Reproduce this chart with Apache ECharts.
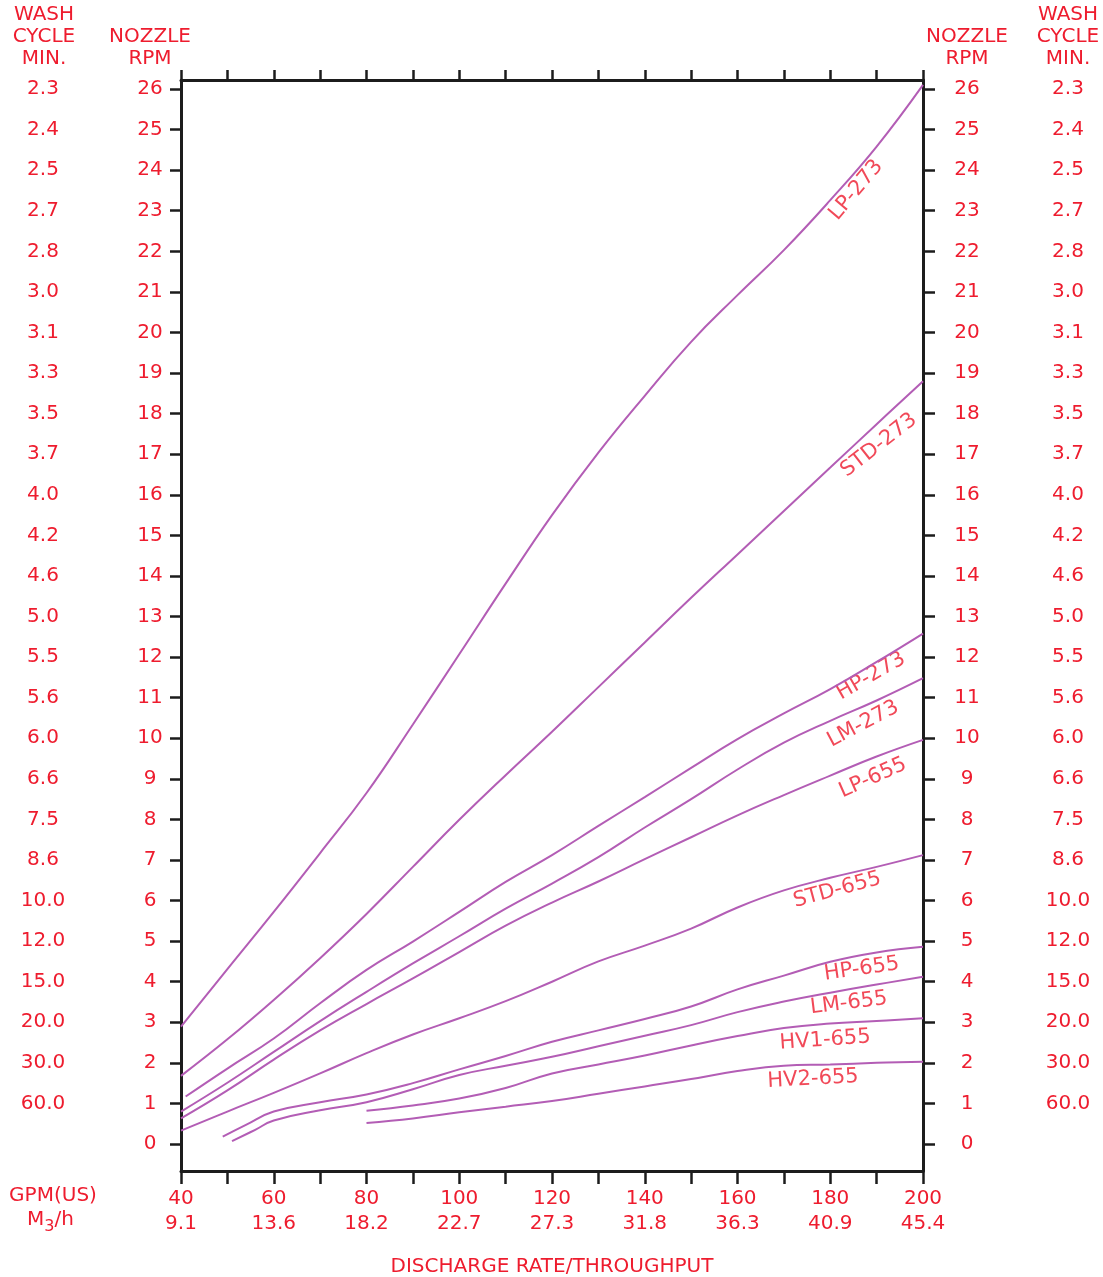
<!DOCTYPE html>
<html><head><meta charset="utf-8">
<script src="https://cdn.jsdelivr.net/npm/echarts@6/dist/echarts.min.js"></script>
<style>html,body{margin:0;padding:0;background:#fff}#c{width:1103px;height:1277px}</style>
</head><body><div id="c"></div>
<script>
// ---- axis values ----
const gpmLabels = [40, 60, 80, 100, 120, 140, 160, 180, 200];
const m3hLabels = ['9.1', '13.6', '18.2', '22.7', '27.3', '31.8', '36.3', '40.9', '45.4'];
const rpmTicks = [0,1,2,3,4,5,6,7,8,9,10,11,12,13,14,15,16,17,18,19,20,21,22,23,24,25,26];
const washRpm = [1,2,3,4,5,6,7,8,9,10,11,12,13,14,15,16,17,18,19,20,21,22,23,24,25,26];
const washCycle = ['60.0','30.0','20.0','15.0','12.0','10.0','8.6','7.5','6.6','6.0','5.6','5.5','5.0','4.6','4.2','4.0','3.7','3.5','3.3','3.1','3.0','2.8','2.7','2.5','2.4','2.3'];

// ---- series values (GPM, nozzle RPM) ----
const gpmFull = [40,50,60,70,80,90,100,110,120,130,140,150,160,170,180,190,200];
const lp273  = [2.89,4.31,5.72,7.17,8.65,10.34,12.07,13.81,15.50,17.04,18.44,19.77,20.92,22.03,23.26,24.58,26.1];
const std273 = [1.68,2.58,3.55,4.58,5.67,6.83,7.99,9.09,10.16,11.26,12.36,13.46,14.53,15.6,16.67,17.74,18.8];
const gpmHp273 = [41,50,60,70,80,90,100,110,120,130,140,150,160,170,180,190,200];
const hp273  = [1.17,1.86,2.60,3.47,4.29,4.99,5.72,6.46,7.12,7.84,8.55,9.27,9.98,10.61,11.21,11.88,12.58];
const lm273  = [0.80,1.51,2.27,3.03,3.75,4.45,5.12,5.80,6.42,7.07,7.80,8.50,9.23,9.89,10.43,10.93,11.48];
const lp655  = [0.63,1.32,2.08,2.80,3.45,4.08,4.73,5.38,5.95,6.47,7.02,7.56,8.10,8.60,9.08,9.55,9.96];
const std655 = [0.33,0.80,1.26,1.74,2.24,2.70,3.10,3.52,4.00,4.50,4.89,5.31,5.83,6.25,6.56,6.83,7.12];
const gpmHp655 = [49,54,60,70,80,90,100,110,120,130,140,150,160,170,180,190,200];
const hp655  = [0.18,0.47,0.80,1.03,1.22,1.50,1.84,2.17,2.52,2.80,3.08,3.39,3.81,4.15,4.49,4.72,4.86];
const gpmLm655 = [51,56,60,70,80,90,100,110,120,130,140,150,160,170,180,190,200];
const lm655  = [0.07,0.35,0.58,0.83,1.03,1.35,1.70,1.93,2.15,2.41,2.67,2.93,3.25,3.51,3.73,3.93,4.12];
const gpmHv = [80,90,100,110,120,130,140,150,160,170,180,190,200];
const hv1655 = [0.82,0.95,1.12,1.38,1.74,1.96,2.18,2.43,2.66,2.86,2.97,3.03,3.10];
const hv2655 = [0.52,0.63,0.78,0.92,1.06,1.24,1.42,1.60,1.80,1.93,1.96,2.00,2.03];

const curveNames = ['LP-273','STD-273','HP-273','LM-273','LP-655','STD-655','HP-655','LM-655','HV1-655','HV2-655'];

// label anchors (data coords) and angles
const labelSpecs = [
  {name:'LP-273',  x:185.6, y:23.51, rot:50},
  {name:'STD-273', x:190.5, y:17.22, rot:38},
  {name:'HP-273',  x:188.8, y:11.53, rot:30},
  {name:'LM-273',  x:187.1, y:10.35, rot:28},
  {name:'LP-655',  x:189.2, y:9.02,  rot:24},
  {name:'STD-655', x:181.5, y:6.26,  rot:15},
  {name:'HP-655',  x:186.8, y:4.31,  rot:8},
  {name:'LM-655',  x:184.0, y:3.47,  rot:7},
  {name:'HV1-655', x:178.9, y:2.56,  rot:4},
  {name:'HV2-655', x:176.3, y:1.60,  rot:3}
];

const RED = '#ee1c2e';
const PURPLE = '#b35db5';
const AX = '#1c1c1c';
const FONT = 'DejaVu Sans';
const FS = 20;

const zip = (xs, ys) => xs.map((x, i) => [x, ys[i]]);
const curves = [
  zip(gpmFull, lp273), zip(gpmFull, std273), zip(gpmHp273, hp273), zip(gpmFull, lm273),
  zip(gpmFull, lp655), zip(gpmFull, std655), zip(gpmHp655, hp655), zip(gpmLm655, lm655),
  zip(gpmHv, hv1655), zip(gpmHv, hv2655)
];

const Y_MIN = -0.665, Y_MAX = 26.222;

const chart = echarts.init(document.getElementById('c'), null, {renderer: 'canvas'});

const baseY = {type: 'value', min: Y_MIN, max: Y_MAX, splitLine: {show: false}};
const txt = {color: RED, fontFamily: FONT, fontSize: FS};
const gtext = (x, y, text) => ({type: 'text', x: x, y: y,
  style: {text: text, fill: RED, font: FS + 'px "' + FONT + '"', align: 'center', verticalAlign: 'middle'}});

const option = {
  animation: false,
  backgroundColor: '#fff',
  grid: {left: 181, top: 80, width: 742, height: 1091, show: false, containLabel: false, outerBoundsMode: 'none'},
  xAxis: [
    {
      type: 'value', position: 'bottom', min: 40, max: 200, interval: 10,
      splitLine: {show: false},
      axisLine: {show: true, onZero: false, lineStyle: {color: AX, width: 3}},
      axisTick: {show: true, inside: false, length: 13, lineStyle: {color: AX, width: 2.5}},
      axisLabel: {
        show: true, customValues: gpmLabels, margin: 15, ...txt, lineHeight: 25,
        formatter: v => { const i = gpmLabels.indexOf(v); return i < 0 ? '' : v + '\n' + m3hLabels[i]; }
      },
      name: 'DISCHARGE RATE/THROUGHPUT', nameLocation: 'middle', nameGap: 86,
      nameTextStyle: {...txt}
    },
    {
      type: 'value', position: 'top', min: 40, max: 200, interval: 10,
      splitLine: {show: false},
      axisLine: {show: true, onZero: false, lineStyle: {color: AX, width: 3}},
      axisTick: {show: true, inside: false, length: 10, lineStyle: {color: AX, width: 2.5}},
      axisLabel: {show: false}
    }
  ],
  yAxis: [
    {
      ...baseY, position: 'left',
      axisLine: {show: true, onZero: false, lineStyle: {color: AX, width: 3}},
      axisTick: {show: true, customValues: rpmTicks, length: 11, lineStyle: {color: AX, width: 2.5}},
      axisLabel: {show: true, customValues: rpmTicks, align: 'center', margin: 31, ...txt}
    },
    {
      ...baseY, position: 'left',
      axisLine: {show: false, onZero: false}, axisTick: {show: false},
      axisLabel: {show: true, customValues: washRpm, align: 'center', margin: 138, ...txt,
        formatter: v => washCycle[washRpm.indexOf(v)] || ''}
    },
    {
      ...baseY, position: 'right',
      axisLine: {show: true, onZero: false, lineStyle: {color: AX, width: 3}},
      axisTick: {show: true, customValues: rpmTicks, length: 12, lineStyle: {color: AX, width: 2.5}},
      axisLabel: {show: true, customValues: rpmTicks, align: 'center', margin: 44, ...txt}
    },
    {
      ...baseY, position: 'right',
      axisLine: {show: false, onZero: false}, axisTick: {show: false},
      axisLabel: {show: true, customValues: washRpm, align: 'center', margin: 145, ...txt,
        formatter: v => washCycle[washRpm.indexOf(v)] || ''}
    }
  ],
  series: curves.map((d, i) => ({
    name: curveNames[i], type: 'line', data: d, xAxisIndex: 0, yAxisIndex: 0,
    showSymbol: false, smooth: 0.45, silent: true,
    lineStyle: {color: PURPLE, width: 2}
  })).concat([{
    name: 'labels', type: 'scatter', xAxisIndex: 0, yAxisIndex: 0, symbolSize: 0, silent: true,
    data: labelSpecs.map(s => ({
      value: [s.x, s.y],
      label: {show: true, position: 'inside', formatter: s.name, rotate: s.rot,
        color: RED, fontFamily: FONT, fontSize: 21}
    }))
  }]),
  graphic: [
    gtext(44, 15, 'WASH'), gtext(44, 37, 'CYCLE'), gtext(44, 59, 'MIN.'),
    gtext(150, 37, 'NOZZLE'), gtext(150, 59, 'RPM'),
    gtext(967, 37, 'NOZZLE'), gtext(967, 59, 'RPM'),
    gtext(1068, 15, 'WASH'), gtext(1068, 37, 'CYCLE'), gtext(1068, 59, 'MIN.'),
    gtext(53, 1196, 'GPM(US)'),
    {type: 'text', x: 27, y: 1210, style: {text: '{a|M}{b|3}{a|/h}', fill: RED, font: FS + 'px "' + FONT + '"',
      rich: {a: {fill: RED, fontSize: FS, fontFamily: FONT, verticalAlign: 'top'},
             b: {fill: RED, fontSize: 16, fontFamily: FONT, padding: [9, 0, 0, 0]}}}}
  ]
};
chart.setOption(option);
</script>
</body></html>
